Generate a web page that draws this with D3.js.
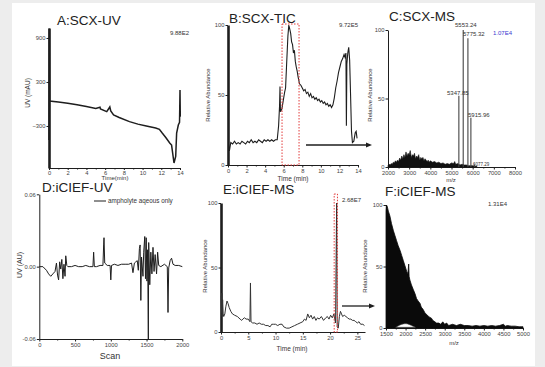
<!DOCTYPE html>
<html><head><meta charset="utf-8">
<script src="https://cdn.jsdelivr.net/npm/d3@7"></script>
<style>body{margin:0;background:#ededed}svg{display:block}text{font-family:"Liberation Sans",Arial,sans-serif}</style>
</head><body><svg id="c" width="545" height="367"></svg>
<script>
// ---------- DATA ----------
// A: SCX-UV
const aTime = [0,0.03,0.06,1,2,3,4,5,5.45,5.5,6.17,6.5,6.6,6.9,7.5,8.6,9.5,10.4,11.4,11.8,12.1,12.5,12.9,13.1,13.36,13.54,13.64,13.82,13.95,14.0,14.03,14.1];
const aUV   = [-490,1030,41,27,10,-10,-35,-60,-45,-68,-105,-41,-95,-150,-185,-241,-275,-300,-327,-345,-396,-460,-532,-560,-805,-714,-396,-287,-250,191,-164,-164];
const aTicksX = [0,2,4,6,8,10,12,14];
const aTicksY = [900,300,-300];
// B: SCX-TIC
const bTime = [0.05,0.15,0.3,0.5,0.7,0.9,1.1,1.3,1.5,1.7,1.9,2.1,2.3,2.5,2.7,2.9,3.1,3.3,3.5,3.7,3.9,4.1,4.3,4.5,4.7,4.9,5.1,5.3,5.45,5.55,5.6,5.65,5.8,5.95,6.1,6.2,6.3,6.45,6.55,6.65,6.75,6.85,6.95,7.05,7.15,7.25,7.35,7.45,7.55,7.7,7.85,8.0,8.15,8.3,8.45,8.6,8.75,8.9,9.05,9.2,9.35,9.5,9.65,9.8,9.95,10.1,10.25,10.4,10.55,10.7,10.85,11.0,11.15,11.3,11.45,11.6,11.75,11.9,12.05,12.2,12.35,12.5,12.6,12.7,12.75,12.8,12.9,13.0,13.1,13.2,13.3,13.4,13.55,13.7,13.8,13.9];
const bAbund = [15,10,16,15,17,15,16,15,17,16,15,17,16,18,16,17,16,18,17,16,18,17,18,17,18,17,18,18,28,42,56,38,40,46,52,55,70,92,100,97,94,88,86,80,82,74,70,67,63,58,57,55,53,54,51,52,49,51,48,49,47,48,46,47,45,46,44,45,43,44,42,43,41,43,48,55,60,66,70,74,76,79,77,80,28,72,80,84,75,50,24,16,17,23,24,19];
const bTicksX = [0,2,4,6,8,10,12,14];
const relTicks = [0,50,100];
// C: SCX-MS
const cPeakMz = [5347.85,5553.24,5775.32,5915.96,6077.29];
const cPeakAb = [52,100,94,36,2];
const cNoiseMz = [2000,2050,2100,2150,2200,2250,2300,2350,2400,2450,2500,2550,2600,2650,2700,2750,2800,2850,2900,2950,3000,3050,3100,3150,3200,3250,3300,3350,3400,3450,3500,3550,3600,3650,3700,3750,3800,3850,3900,3950,4000,4100,4200,4300,4400,4500,4600,4700,4800,4900,5000,5100,5150,5200,5300,5400,5500,5600,5700,5800,5900,6000,6100,6200];
const cNoiseAb = [1,2,1.5,2.5,2,3.5,3,4.5,3.5,5,4,6.5,5,8,6,9,7,11,8,10,9,12,7,9,8,10,6,8,7,9,5,7,6,7,4.5,6,5,4,5,3.5,4.5,3.5,4,3,3.5,2.5,3,2,2.5,2,3,2.5,4,2,2.5,1.5,2,1.5,1.5,1,1,1,0.5,0.5];
const cTicksX = [2000,3000,4000,5000,6000,7000,8000];
// D: iCIEF-UV
const dScan = [0,50,100,130,160,190,220,240,255,270,285,300,315,330,345,360,370,385,400,450,500,550,600,650,700,750,760,770,800,850,890,900,905,915,950,990,1000,1010,1050,1100,1150,1200,1250,1290,1310,1330,1350,1370,1385,1400,1410,1420,1430,1450,1460,1475,1485,1495,1505,1515,1525,1530,1545,1560,1575,1590,1605,1620,1640,1655,1670,1700,1750,1790,1800,1810,1830,1850,1870,1900,1950,2000];
const dUV = [0,0,-0.003,-0.006,-0.008,-0.006,-0.004,0.003,-0.007,-0.011,0.004,-0.002,0.006,-0.010,0.002,-0.008,0.009,0.001,0,0,0.001,0,0,0.001,0,0,0.012,0,0,0.001,0.001,0.018,0.024,0.003,0.001,0.001,-0.011,0.001,0.002,0.001,0.002,0.002,0.002,0.003,-0.005,0.003,0.004,0.005,-0.003,0.015,0.018,-0.028,0.008,-0.008,0.012,0.025,-0.010,0.024,-0.012,0.014,-0.060,0.020,-0.015,0.012,-0.006,0.016,-0.004,0.010,-0.006,0.012,0.001,0,0.002,0,-0.038,-0.001,0.005,0.007,0.002,0.001,0.001,0];
const dTicksX = [0,500,1000,1500,2000];
const dTicksY = [-0.06,0,0.06];
// E: iCIEF-MS
const eTime = [0.05,0.1,0.15,0.2,0.3,0.4,0.5,0.7,0.9,1.1,1.3,1.5,1.8,2.1,2.5,3.0,3.5,3.8,4.0,4.3,4.6,5.0,5.3,5.4,5.5,5.8,6.2,6.6,7.0,7.4,7.8,8.2,8.6,9.0,9.3,9.6,10.0,10.4,10.8,11.2,11.5,12.0,12.5,13.0,13.5,14.0,14.5,15.0,15.3,15.6,15.9,16.2,16.5,16.8,17.1,17.4,17.7,18.0,18.4,18.8,19.2,19.5,19.8,20.1,20.4,20.7,21.0,21.2,21.3,21.5,21.7,21.9,22.1,22.3,22.6,22.9,23.2,23.5,23.8,24.1,24.4,24.7,25.0,25.3,25.6,26.0,26.3];
const eAbund = [28,15,30,12,25,14,12,14,20,24,22,19,16,14,13,12,10,9,10,11,10,10,8,38,8,7,7,6,7,6,6,5,5,4,6,6,6,5,6,6,4,3,3,4,5,6,7,8,10,9,14,11,13,10,12,9,11,10,12,9,11,12,10,13,11,14,7,100,4,3,12,16,14,12,13,12,11,10,10,9,9,8,7,8,6,6,5];
const eTicksX = [0,5,10,15,20,25];
// F: iCIEF-MS spectrum envelope
const fMz = [1500,1510,1530,1560,1600,1640,1690,1730,1770,1810,1860,1900,1940,1980,2030,2060,2080,2090,2110,2150,2200,2240,2280,2320,2370,2400,2450,2500,2540,2600,2660,2700,2750,2790,2850,2900,2950,3000,3050,3100,3200,3300,3400,3500,3600,3700,3800,3900,4000,4100,4200,4300,4400,4500,4550,4600,4700,4800,4900,5000];
const fAbund = [95,100,99,95,91,85,79,75,71,67,63,59,55,51,46,44,52,42,39,35,31,28,24,22,20,17,15,12,11,9,8,6,5,4,4,3,5,3,4,2,3,2,3,2,2,1.5,2,1.5,2,1.5,2,1.5,2,3,1.5,2,1.5,1.5,1,1];
const fHoleMz = [1750,1850,1950,2050,2150,2250];
const fHoleAb = [0.5,2.5,3.5,3.5,2,0.5];
const fTicksX = [1500,2000,2500,3000,3500,4000,4500,5000];

// ---------- DRAW ----------
const svg = d3.select("#c");
svg.append("rect").attr("width",545).attr("height",367).attr("fill","#ededed");
svg.append("rect").attr("x",12).attr("y",3).attr("width",523).attr("height",363).attr("fill","#fff");

const INK = "#1e1e1e";
function txt(x,y,s,size,opt={}){
  const t = svg.append("text").attr("x",x).attr("y",y).text(s)
    .attr("font-size",size).attr("fill",opt.fill||"#333")
    .attr("text-anchor",opt.anchor||"start");
  if(opt.rot) t.attr("transform",`rotate(-90,${x},${y})`).attr("text-anchor","middle");
  return t;
}
function axes(x,y,o){
  const ts = o.ts||2.5, tp = o.tp===undefined?1.5:o.tp;
  const gx = svg.append("g").attr("transform",`translate(0,${y.range()[0]})`)
    .call(d3.axisBottom(x).tickValues(o.xt).tickFormat(o.xf||d3.format("d")).tickSize(ts).tickPadding(tp).tickSizeOuter(0));
  if(o.xm) svg.append("g").attr("transform",`translate(0,${y.range()[0]})`)
    .call(d3.axisBottom(x).tickValues(o.xm).tickFormat("").tickSize(1.5).tickSizeOuter(0))
    .select(".domain").remove();
  const gy = svg.append("g").attr("transform",`translate(${x.range()[0]},0)`)
    .call(d3.axisLeft(y).tickValues(o.yt).tickFormat(o.yf||d3.format("d")).tickSize(2.5).tickPadding(1).tickSizeOuter(0));
  svg.selectAll("g.tick text").attr("font-size",5.8).attr("fill","#444").attr("font-family","Liberation Sans, Arial, sans-serif");
  svg.selectAll("g .domain").attr("stroke",INK);
  svg.selectAll("g.tick line").attr("stroke",INK);
  if(o.thick) gy.select(".domain").attr("stroke","#888").attr("stroke-width",2.6);
}
const line = (x,y,xs,ys)=>d3.line().x((d,i)=>x(xs[i])).y((d,i)=>y(ys[i]))(xs);
function redBox(x0,x1,y0,y1){
  svg.append("rect").attr("x",x0).attr("y",y0).attr("width",x1-x0).attr("height",y1-y0)
    .attr("fill","none").attr("stroke","#e23b3b").attr("stroke-width",1).attr("stroke-dasharray","1.5,1.5");
}
function arrow(x0,x1,yy){
  svg.append("line").attr("x1",x0).attr("x2",x1-4).attr("y1",yy).attr("y2",yy).attr("stroke",INK).attr("stroke-width",1.3);
  svg.append("path").attr("d",`M${x1},${yy}L${x1-6},${yy-2.5}L${x1-6},${yy+2.5}Z`).attr("fill",INK);
}

// Panel A
{
  const x = d3.scaleLinear().domain([0,14]).range([49,180]);
  const y = d3.scaleLinear().domain([-873,1036]).range([168,28]);
  axes(x,y,{xt:aTicksX,xm:d3.range(1,14,2),yt:aTicksY,thick:true,ts:2,tp:0.5});
  svg.append("path").attr("d",line(x,y,aTime,aUV)).attr("fill","none").attr("stroke",INK).attr("stroke-width",1.5);
  txt(57,25,"A:SCX-UV",13.5,{fill:"#222"});
  txt(170,35,"9.88E2",6);
  txt(30,93,"UV (mAU)",6.5,{rot:true});
  txt(115,180,"Time(min)",6,{anchor:"middle"});
}
// Panel B
{
  const x = d3.scaleLinear().domain([0,14]).range([228,358]);
  const y = d3.scaleLinear().domain([0,100]).range([165,25]);
  axes(x,y,{xt:bTicksX,xm:d3.range(1,14,2),yt:relTicks,thick:true});
  svg.append("path").attr("d",line(x,y,bTime,bAbund)).attr("fill","none").attr("stroke",INK).attr("stroke-width",1.1);
  redBox(x(5.82),x(7.65),24,165);
  arrow(306,372,145);
  txt(229,23,"B:SCX-TIC",13.5,{fill:"#222"});
  txt(339,27,"9.72E5",6);
  txt(210,95,"Relative Abundance",6,{rot:true});
  txt(293,181,"Time (min)",6.5,{anchor:"middle"});
}
// Panel C
{
  const x = d3.scaleLinear().domain([2000,8000]).range([388,515]);
  const y = d3.scaleLinear().domain([0,100]).range([167,30]);
  axes(x,y,{xt:cTicksX,xm:d3.range(2500,8000,1000),yt:relTicks});
  const area = d3.area().x((d,i)=>x(cNoiseMz[i])).y0(y(0)).y1((d,i)=>y(cNoiseAb[i]));
  svg.append("path").attr("d",area(cNoiseMz)).attr("fill","#111").attr("stroke","#111").attr("stroke-width",0.6);
  cPeakMz.forEach((m,i)=>svg.append("line").attr("x1",x(m)).attr("x2",x(m)).attr("y1",y(0)).attr("y2",y(cPeakAb[i]))
    .attr("stroke","#444").attr("stroke-width",1.1));
  txt(455,27,"5553.24",6);
  txt(463,35.5,"5775.32",6);
  txt(447,95,"5347.85",6);
  txt(468,117,"5915.96",6);
  txt(473,166,"6077.29",4.5);
  txt(493,35,"1.07E4",6,{fill:"#3a3ad0"});
  txt(389,21,"C:SCX-MS",13.5,{fill:"#222"});
  txt(372,95,"Relative Abundance",6,{rot:true});
  txt(451,182,"m/z",6,{anchor:"middle"});
}
// Panel D
{
  const x = d3.scaleLinear().domain([0,2000]).range([39.3,182.3]);
  const y = d3.scaleLinear().domain([-0.06,0.06]).range([339,194.3]);
  axes(x,y,{xt:dTicksX,xm:d3.range(250,2000,500),yt:dTicksY,yf:d=>d.toFixed(2)});
  svg.append("path").attr("d",line(x,y,dScan,dUV)).attr("fill","none").attr("stroke",INK).attr("stroke-width",1);
  svg.append("line").attr("x1",94).attr("x2",106).attr("y1",201).attr("y2",201).attr("stroke",INK).attr("stroke-width",1);
  txt(108,203,"ampholyte aqeous only",6.3);
  txt(42,192,"D:iCIEF-UV",13.5,{fill:"#222"});
  txt(22,265,"UV (AU)",7,{rot:true});
  txt(110,359,"Scan",9,{anchor:"middle"});
}
// Panel E
{
  const x = d3.scaleLinear().domain([0,26.4]).range([221,365]);
  const y = d3.scaleLinear().domain([0,100]).range([332,203]);
  axes(x,y,{xt:eTicksX,xm:[2.5,7.5,12.5,17.5,22.5],yt:relTicks,thick:true});
  svg.append("path").attr("d",line(x,y,eTime,eAbund)).attr("fill","none").attr("stroke","#333").attr("stroke-width",1);
  redBox(x(20.75),x(21.35),194,332);
  arrow(342,375,306);
  txt(223,194,"E:iCIEF-MS",13.5,{fill:"#222"});
  txt(342,202,"2.68E7",6);
  txt(207,266,"Relative Abundance",6,{rot:true});
  txt(292,351,"Time (min)",6.5,{anchor:"middle"});
}
// Panel F
{
  const x = d3.scaleLinear().domain([1500,5000]).range([386,523]);
  const y = d3.scaleLinear().domain([0,100]).range([328,205]);
  axes(x,y,{xt:fTicksX,xm:d3.range(1750,5000,500),yt:relTicks});
  const area = d3.area().x((d,i)=>x(fMz[i])).y0(y(0)).y1((d,i)=>y(fAbund[i]));
  svg.append("path").attr("d",area(fMz)).attr("fill","#0a0a0a").attr("stroke","#0a0a0a").attr("stroke-width",0.8);
  const hole = d3.area().curve(d3.curveBasis).x((d,i)=>x(fHoleMz[i])).y0(y(0.6)).y1((d,i)=>y(fHoleAb[i]));
  svg.append("path").attr("d",hole(fHoleMz)).attr("fill","#fff").attr("stroke","#555").attr("stroke-width",0.5);
  txt(385,196,"F:iCIEF-MS",13.5,{fill:"#222"});
  txt(488,206,"1.31E4",6);
  txt(367,266,"Relative Abundance",6,{rot:true});
  txt(454,345,"m/z",6,{anchor:"middle"});
}
</script></body></html>
